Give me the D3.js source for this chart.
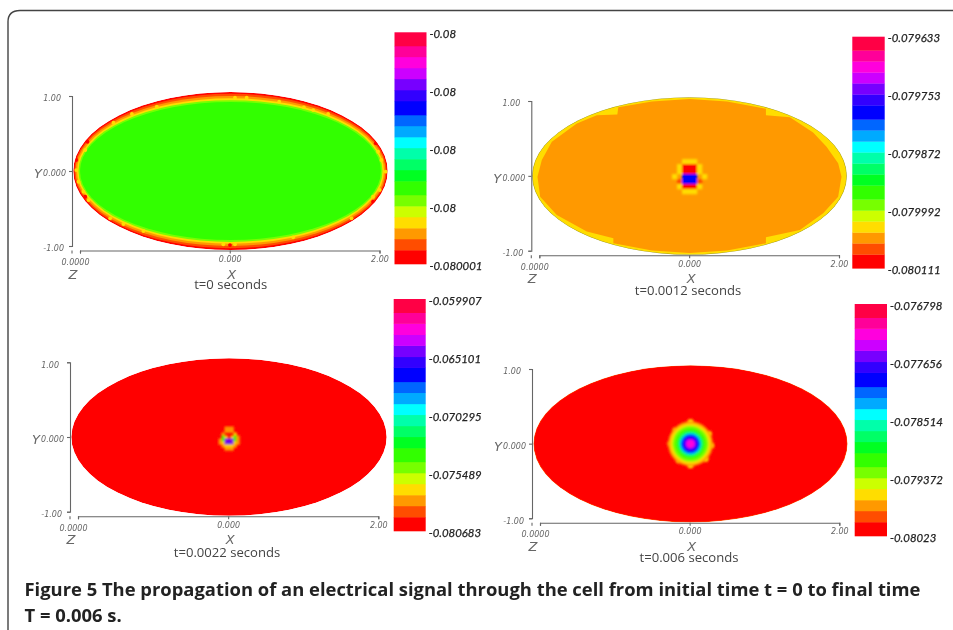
<!DOCTYPE html>
<html>
<head>
<meta charset="utf-8">
<script src="https://cdn.jsdelivr.net/npm/d3@7"></script>
<style>
  html, body { margin: 0; padding: 0; background: #fff; }
  svg { display: block; }
  .tick-small text, text.tick-small { font-family: "DejaVu Sans"; font-style: italic; font-size: 8px; fill: #666; }
  .bar-axis text { font-family: "Lato"; font-style: italic; font-weight: 400; font-size: 11.4px; fill: #222; stroke: #222; stroke-width: .25px; }
  .axis-name { font-family: "DejaVu Sans"; font-style: italic; font-size: 13px; fill: #666; }
  .time-label { font-family: "Open Sans"; font-size: 13.1px; fill: #444; text-anchor: middle; }
  .caption { font-family: "Open Sans"; font-weight: 700; font-size: 18.4px; fill: #222; }
</style>
</head>
<body>
<svg id="plot" width="953" height="630"></svg>
<script>
// colour bar, bottom band to top band
const bandColors = ['#ff0000', '#ff4d00', '#ff9900', '#ffdd00', '#ccff00', '#77ff00', '#33ff00',
  '#00ff22', '#00ff66', '#00ffaa', '#00ffff', '#00aaff', '#0066ff', '#0000ff', '#3300ff',
  '#7700ff', '#cc00ff', '#ff00dd', '#ff0099', '#ff0044'];
const bandEdges = [0, .060, .108, .155, .203, .250, .298, .358, .406, .453, .501, .548, .596,
  .643, .704, .751, .799, .846, .894, .941, 1];
const barTicks = [0, .25, .5, .75, 1];

const barLabels1 = ['-0.080001', '-0.08', '-0.08', '-0.08', '-0.08'];
const barLabels2 = ['-0.080111', '-0.079992', '-0.079872', '-0.079753', '-0.079633'];
const barLabels3 = ['-0.080683', '-0.075489', '-0.070295', '-0.065101', '-0.059907'];
const barLabels4 = ['-0.08023', '-0.079372', '-0.078514', '-0.077656', '-0.076798'];

const timeLabels = ['t=0 seconds', 't=0.0012 seconds', 't=0.0022 seconds', 't=0.006 seconds'];

const xTickValues = [-2, 0, 2];
const xTickLabels = ['', '0.000', '2.00'];
const yTickValues = [-1, 0, 1];
const yTickLabels = ['-1.00', '0.000', '1.00'];
const zTickLabel = '0.0000';

// nested ellipses, outside in: [rx, ry, band]
const rings1 = [[2.1, 1.053, 0], [2.085, 1.03, 1], [2.07, 1.0, 2], [2.05, .97, 3], [2.03, .945, 5], [2.01, .92, 6]];
const rings2 = [[2.1, 1.053, 3]];
const rings3 = [[2.1, 1.053, 0]];
const rings4 = [[2.1, 1.053, 1], [2.09, 1.045, 0]];

// speckles along the edge at t=0: [x, y, band]
const specks1 = [[.06, .977, 3], [.216, .977, 3], [.65, .924, 3], [.98, .849, 3], [1.104, .813, 3], [1.304, .76, 3],
  [-.984, .857, 3], [-1.317, .76, 3], [-1.563, .644, 3], [1.971, .257, 3], [2.016, .147, 3], [2.073, -.009, 3],
  [1.993, -.253, 3], [1.904, -.343, 3], [1.616, -.631, 3], [.837, -.884, 3], [.06, -.977, 3], [-.096, -.977, 3],
  [-1.163, -.8, 3], [-1.43, -.707, 3], [-1.607, -.631, 3], [-1.896, -.387, 3], [-1.963, -.276, 3], [-2.06, .013, 3],
  [-2.03, -.143, 3], [-1.94, .28, 3],
  [1.94, .369, 0], [1.904, -.409, 0], [-.007, -.987, 0], [-2.06, .147, 0], [-1.91, .39, 0], [-1.94, -.343, 0]];

// orange region at t=0.0012, read as an outline
const plateau2 = [[-.95, .92], [-.5, .995], [0, 1.03], [.5, .995], [1.02, .9], [1.02, .813], [1.34, .785], [1.65, .58], [1.829, .391],
  [1.984, .169], [2.029, -.009], [1.984, -.276], [1.784, -.498], [1.473, -.72], [1.02, -.818], [1.02, -.9],
  [.5, -.995], [0, -1.03], [-.5, -.995], [-1.016, -.9], [-1.016, -.831], [-1.371, -.742], [-1.771, -.52], [-1.993, -.276],
  [-2.029, -.009], [-1.971, .213], [-1.837, .457], [-1.504, .702], [-1.237, .813], [-.963, .823]];

// signal cells around the stimulus, band per cell, -1 keeps the background
const spot2 = [
  [-1, -1, 3, 3, 3, -1, -1],
  [-1, 3, 0, 0, 0, 3, -1],
  [-1, 3, 0, 0, 0, 3, -1],
  [3, -1, 13, 13, 13, -1, 3],
  [-1, 1, 13, 13, 13, 1, -1],
  [-1, 3, 0, 0, 0, 3, -1],
  [-1, -1, 3, 3, 3, -1, -1]];
const spot3 = [
  [-1, -1, 2, 2, 2, -1, -1],
  [-1, -1, 2, 2, 2, -1, -1],
  [-1, 2, -1, -1, -1, 3, -1],
  [-1, 6, 3, -1, 3, 6, 2],
  [2, 6, 15, 15, 15, 6, 2],
  [2, 3, 15, 14, 15, 3, 2],
  [-1, 2, 3, 3, 3, 2, -1],
  [-1, -1, 2, 2, 2, -1, -1]];

// wave front at t=0.006, outside in: [radius, band]
const front4 = [[.30, 2], [.27, 3], [.24, 5], [.20, 6], [.165, 8], [.14, 11], [.12, 13], [.08, 15], [.055, 17]];
const lumps4 = [[.244, .133], [.276, -.022], [.2, -.2], [0, -.289], [-.156, -.222], [-.267, 0], [-.2, .178], [0, .289]];

const captionLines = ['Figure 5 The propagation of an electrical signal through the cell from initial time t = 0 to final time',
  'T = 0.006 s.'];

const panels = [
  { labels: barLabels1, time: timeLabels[0], rings: rings1, specks: specks1,
    xr: [80, 379.5], yr: [246, 96], cx: 230.5, cy: 171, bar: [394.5, 426.5, 264, 32.3], timeAt: [230.7, 288.5] },
  { labels: barLabels2, time: timeLabels[1], rings: rings2, plateau: plateau2, cells: spot2, cell: .0667, at: [0, -.0067], blur: 'blur3',
    xr: [539.3, 839], yr: [250.7, 101], cx: 689.5, cy: 176, bar: [852.3, 884.7, 268.3, 36.7], timeAt: [688, 295] },
  { labels: barLabels3, time: timeLabels[2], rings: rings3, cells: spot3, cell: .04, at: [0, -.02], blur: 'blur2',
    xr: [78, 378.3], yr: [511.7, 362.3], cx: 229, cy: 437, bar: [393.7, 425.7, 531, 299], timeAt: [227, 557.3] },
  { labels: barLabels4, time: timeLabels[3], rings: rings4, front: front4, lumps: lumps4,
    xr: [540, 839.3], yr: [518.3, 369], cx: 690.5, cy: 443.8, bar: [854.7, 887, 536, 304], timeAt: [689, 561.7] }
];

const svg = d3.select('#plot');
const defs = svg.append('defs');
[['soft', .42], ['blur1', .6], ['blur2', .8], ['blur3', 1.1]].forEach(([id, sd]) => {
  defs.append('filter').attr('id', id)
    .attr('x', '-10%').attr('y', '-10%').attr('width', '120%').attr('height', '120%')
    .append('feGaussianBlur').attr('stdDeviation', sd);
});

// page frame with rounded corner
const frame = d3.path();
frame.moveTo(953, 10.5);
frame.lineTo(20, 10.5);
frame.quadraticCurveTo(8, 10.5, 8, 22);
frame.lineTo(8, 630);
svg.append('path').attr('d', frame.toString())
  .attr('fill', 'none').attr('stroke', '#444').attr('stroke-width', 1.4);

const root = svg.append('g').attr('filter', 'url(#soft)');

panels.forEach((p, n) => {
  const x = d3.scaleLinear().domain([-2, 2]).range(p.xr);
  const y = d3.scaleLinear().domain([-1, 1]).range(p.yr);
  // the ellipse sits slightly off the axes, so fields are offset from them
  const g = root.append('g');
  const field = g.append('g')
    .attr('transform', `translate(${p.cx - x(0)}, ${p.cy - y(0)})`);

  const ellipse = (sel, r) => sel
    .attr('cx', x(0)).attr('cy', y(0))
    .attr('rx', x(r[0]) - x(0)).attr('ry', y(0) - y(r[1]));

  const clipId = 'clip' + n;
  defs.append('clipPath').attr('id', clipId)
    .append('ellipse').call(ellipse, [2.1, 1.053])
    .attr('transform', `translate(${p.cx - x(0)}, ${p.cy - y(0)})`);

  const inner = field.append('g').attr('filter', 'url(#blur1)');
  const clipped = g.append('g').attr('clip-path', `url(#${clipId})`);
  clipped.node().appendChild(field.node());

  inner.selectAll('ellipse').data(p.rings).enter().append('ellipse')
    .each(function (d) { d3.select(this).call(ellipse, d); })
    .attr('fill', d => bandColors[d[2]]);

  if (p.specks) {
    inner.selectAll('circle').data(p.specks).enter().append('circle')
      .attr('cx', d => x(d[0])).attr('cy', d => y(d[1])).attr('r', 1.9)
      .attr('fill', d => bandColors[d[2]]);
  }

  if (p.plateau) {
    const line = d3.line().x(d => x(d[0])).y(d => y(d[1])).curve(d3.curveLinearClosed);
    inner.append('path').attr('d', line(p.plateau)).attr('fill', bandColors[2]);
  }

  if (p.cells) {
    const spot = field.append('g').attr('filter', `url(#${p.blur})`);
    const rows = p.cells.length;
    const cols = p.cells[0].length;
    const w = x(p.cell) - x(0);
    const h = y(0) - y(p.cell);
    p.cells.forEach((row, j) => {
      row.forEach((band, i) => {
        if (band < 0) return;
        const cellX = p.at[0] + (i - cols / 2) * p.cell;
        const cellY = p.at[1] - (j - rows / 2) * p.cell;
        spot.append('rect')
          .attr('x', x(cellX)).attr('y', y(cellY))
          .attr('width', w + .3).attr('height', h + .3)
          .attr('fill', bandColors[band]);
      });
    });
  }

  if (p.front) {
    const spot = field.append('g').attr('filter', 'url(#blur3)');
    spot.selectAll('circle.lump').data(p.lumps).enter().append('circle')
      .attr('class', 'lump')
      .attr('cx', d => x(d[0])).attr('cy', d => y(d[1])).attr('r', 3.2)
      .attr('fill', bandColors[3]);
    spot.selectAll('circle.front').data(p.front).enter().append('circle')
      .attr('class', 'front')
      .attr('cx', x(0)).attr('cy', y(0))
      .attr('r', d => x(d[0]) - x(0))
      .attr('fill', d => bandColors[d[1]]);
  }

  if (n === 1) {
    field.append('ellipse').call(ellipse, [2.1, 1.053])
      .attr('fill', 'none').attr('stroke', '#8a8a20').attr('stroke-width', .8);
  }

  // axes
  const xAxis = d3.axisBottom(x).tickValues(xTickValues)
    .tickSize(3).tickPadding(3).tickFormat((d, i) => xTickLabels[i]);
  const yAxis = d3.axisLeft(y).tickValues(yTickValues)
    .tickSize(3).tickPadding(3).tickFormat((d, i) => yTickLabels[i]);

  g.append('g').attr('class', 'tick-small')
    .attr('transform', `translate(0, ${p.yr[0] + 4.5})`).call(xAxis);
  const yG = g.append('g').attr('class', 'tick-small')
    .attr('transform', `translate(${p.xr[0] - 8}, 0)`).call(yAxis);
  g.selectAll('.domain, .tick line').attr('stroke', '#666').attr('stroke-width', 1.1);
  yG.selectAll('.tick text').attr('dx', (d, i) => [-2, 0, -5][i]).attr('dy', '.6em');

  // z axis stub, it only has the one tick
  const zX = p.xr[0] - 8;
  const zY = p.yr[0] + 4.5;
  g.append('line').attr('x1', zX).attr('x2', zX).attr('y1', zY).attr('y2', zY + 3)
    .attr('stroke', '#666').attr('stroke-width', 1.1);
  g.append('text').attr('class', 'tick-small').attr('x', zX + 3.5).attr('y', zY + 14.5)
    .attr('text-anchor', 'middle').text(zTickLabel);

  g.append('text').attr('class', 'axis-name').attr('x', zX - 38).attr('y', p.cy + 7).text('Y');
  g.append('text').attr('class', 'axis-name').attr('x', zX + 1).attr('y', zY + 28)
    .attr('text-anchor', 'middle').text('Z');
  g.append('text').attr('class', 'axis-name').attr('x', x(0) + 2).attr('y', zY + 28)
    .attr('text-anchor', 'middle').text('X');

  g.append('text').attr('class', 'time-label')
    .attr('x', p.timeAt[0]).attr('y', p.timeAt[1]).text(p.time);

  // colour bar
  const frac = d3.scaleLinear().domain([0, 1]).range([p.bar[2], p.bar[3]]);
  g.selectAll('rect.band').data(bandColors).enter().append('rect')
    .attr('class', 'band')
    .attr('x', p.bar[0])
    .attr('width', p.bar[1] - p.bar[0])
    .attr('y', (d, i) => frac(bandEdges[i + 1]))
    .attr('height', (d, i) => frac(bandEdges[i]) - frac(bandEdges[i + 1]) + .3)
    .attr('fill', d => d);

  const barAxis = d3.axisRight(frac).tickValues(barTicks)
    .tickSize(0).tickPadding(3).tickFormat((d, i) => p.labels[i]);
  const barG = g.append('g').attr('class', 'bar-axis')
    .attr('transform', `translate(${p.bar[1]}, 1.5)`).call(barAxis);
  barG.select('.domain').remove();
});

root.selectAll('text.caption-line').data(captionLines).enter().append('text')
  .attr('class', 'caption')
  .attr('x', 24.5)
  .attr('y', (d, i) => 595.7 + i * 26)
  .text(d => d);
</script>
</body>
</html>
